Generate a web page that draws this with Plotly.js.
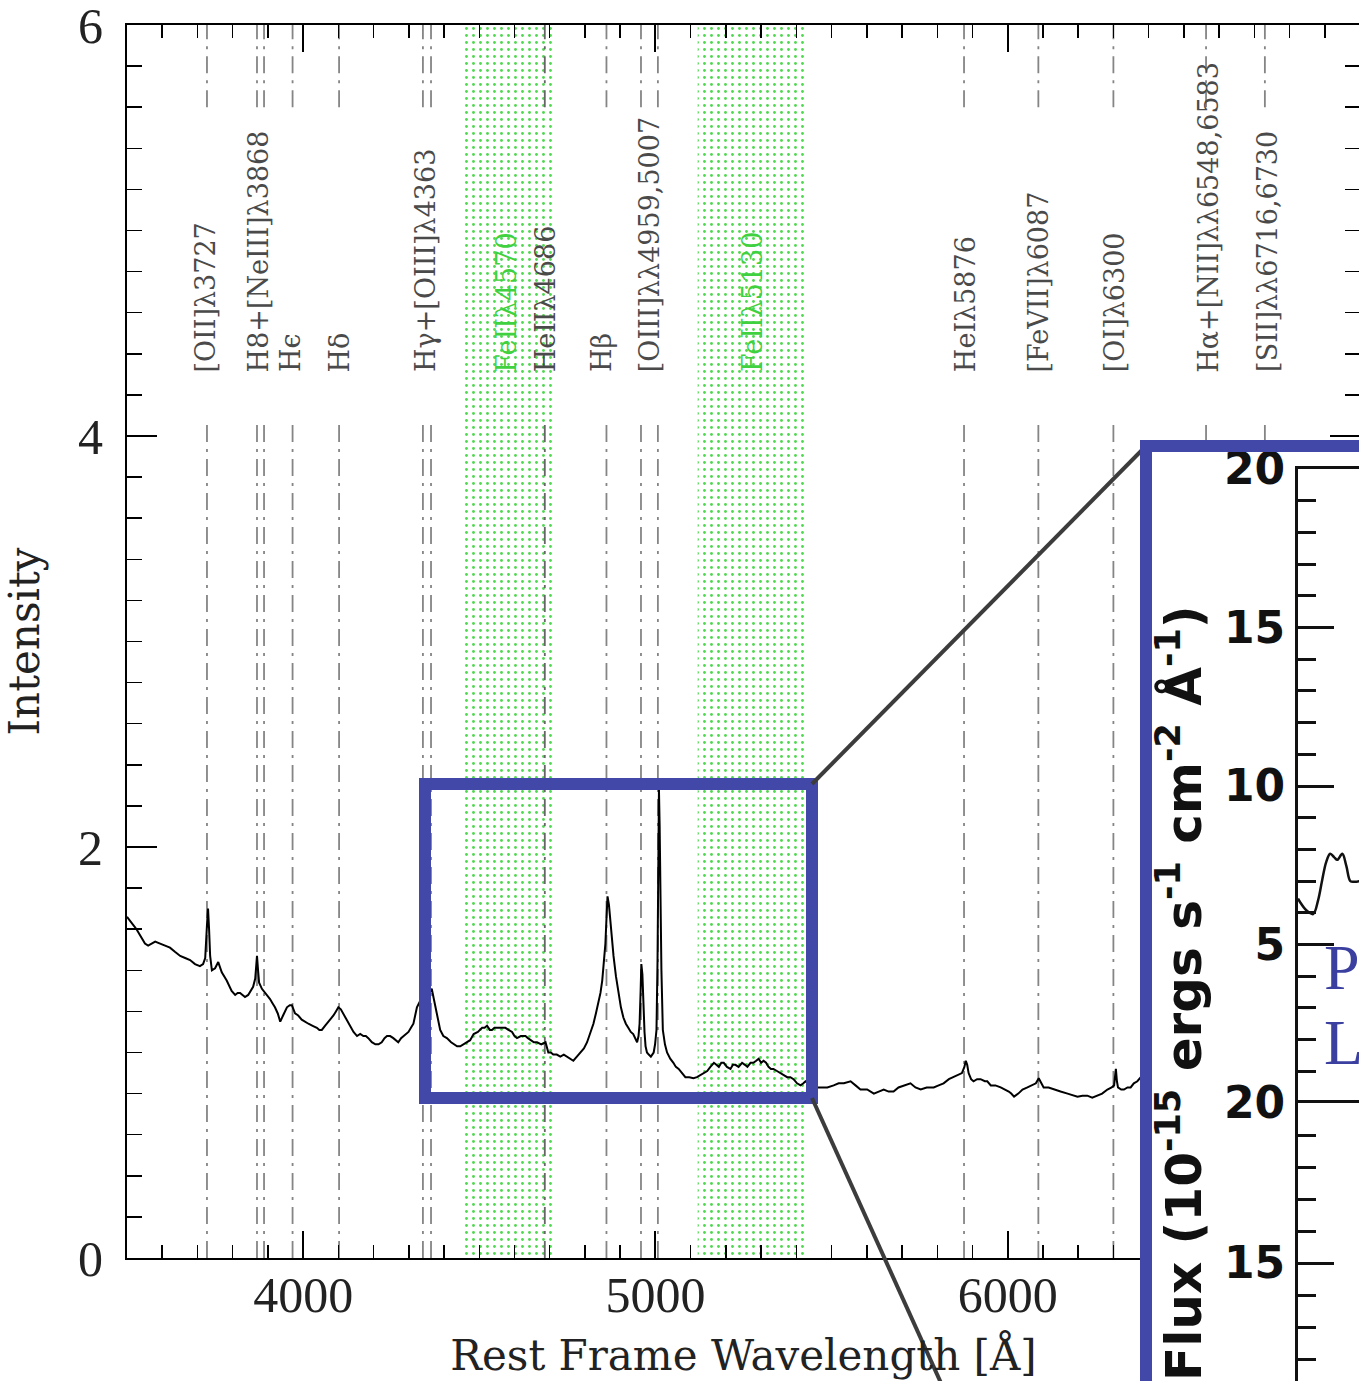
<!DOCTYPE html>
<html>
<head>
<meta charset="utf-8">
<script src="https://cdn.plot.ly/plotly-3.0.1.min.js"></script>
<style>
html,body{margin:0;padding:0;background:#fff;}
#wrap{position:relative;width:1359px;height:1381px;overflow:hidden;}
#chart{width:1600px;height:1700px;}
</style>
</head>
<body>
<div id="wrap"><div id="chart"></div></div>
<script>
// ---------------- data ----------------
const wave = [3500,3508,3518,3527,3540,3551,3560,3570,3580,3594,3608,3622,3636,3651,3665,3679,3693,3707,3716,3722,3727,3730,3733,3736,3741,3750,3759,3764,3769,3783,3797,3807,3814,3821,3828,3835,3844,3852,3858,3864,3867,3869,3872,3875,3883,3892,3899,3906,3913,3920,3928,3935,3943,3954,3962,3968,3977,3986,3996,4005,4015,4027,4039,4046,4053,4062,4071,4078,4086,4093,4100,4107,4114,4124,4134,4143,4153,4162,4171,4178,4185,4195,4205,4214,4223,4231,4238,4247,4256,4263,4270,4278,4285,4292,4299,4306,4313,4318,4323,4332,4340,4350,4358,4365,4370,4375,4382,4389,4398,4408,4420,4437,4446,4455,4464,4474,4484,4496,4508,4515,4522,4530,4536,4543,4550,4562,4574,4583,4593,4600,4607,4618,4631,4638,4645,4655,4664,4676,4688,4696,4703,4710,4720,4730,4740,4749,4758,4767,4777,4787,4797,4806,4815,4824,4831,4838,4844,4849,4854,4858,4861,4864,4868,4872,4876,4881,4888,4895,4902,4909,4916,4923,4930,4937,4943,4948,4952,4955,4958,4960,4963,4966,4969,4972,4976,4981,4987,4991,4995,4999,5003,5006,5008,5010,5012,5014,5017,5021,5027,5033,5042,5051,5058,5066,5075,5085,5096,5108,5118,5128,5138,5147,5156,5166,5173,5180,5187,5194,5203,5213,5220,5227,5236,5246,5254,5261,5270,5278,5286,5293,5300,5307,5314,5321,5328,5335,5345,5355,5364,5374,5383,5392,5402,5412,5420,5426,5440,5455,5469,5488,5506,5520,5535,5554,5568,5582,5601,5620,5634,5648,5662,5676,5690,5705,5724,5738,5753,5770,5790,5804,5818,5833,5847,5860,5870,5877,5881,5885,5889,5896,5903,5913,5923,5935,5942,5952,5965,5980,5992,6003,6010,6018,6030,6042,6056,6068,6080,6088,6095,6102,6116,6131,6150,6170,6185,6198,6212,6226,6240,6254,6268,6283,6295,6302,6307,6310,6313,6322,6330,6340,6349,6358,6368,6378,6392,6410];
const intensity = [1.66,1.64,1.62,1.60,1.56,1.53,1.52,1.53,1.54,1.53,1.52,1.51,1.49,1.47,1.46,1.45,1.43,1.42,1.43,1.46,1.62,1.70,1.60,1.47,1.40,1.41,1.44,1.41,1.39,1.35,1.30,1.28,1.29,1.29,1.28,1.27,1.28,1.30,1.32,1.36,1.42,1.47,1.40,1.34,1.31,1.29,1.28,1.26,1.24,1.22,1.19,1.15,1.18,1.22,1.23,1.23,1.19,1.18,1.16,1.15,1.14,1.13,1.12,1.11,1.11,1.13,1.15,1.16,1.18,1.20,1.22,1.21,1.19,1.16,1.13,1.10,1.08,1.09,1.08,1.08,1.07,1.05,1.04,1.04,1.05,1.07,1.08,1.08,1.07,1.06,1.05,1.07,1.08,1.09,1.10,1.12,1.14,1.18,1.22,1.25,1.27,1.28,1.29,1.31,1.27,1.22,1.16,1.11,1.08,1.07,1.05,1.03,1.03,1.04,1.05,1.06,1.09,1.10,1.12,1.12,1.13,1.11,1.11,1.12,1.12,1.12,1.12,1.11,1.10,1.08,1.07,1.08,1.08,1.07,1.06,1.05,1.05,1.04,1.05,1.00,1.00,0.99,0.99,0.98,0.99,0.98,0.97,0.96,0.98,1.00,1.02,1.05,1.09,1.14,1.19,1.24,1.29,1.35,1.44,1.53,1.65,1.76,1.72,1.64,1.56,1.47,1.37,1.29,1.22,1.17,1.14,1.12,1.10,1.09,1.07,1.05,1.08,1.14,1.30,1.43,1.38,1.22,1.10,1.03,1.00,0.99,0.98,0.99,1.00,1.04,1.11,1.45,1.90,2.28,2.10,1.75,1.40,1.11,1.04,1.00,0.97,0.95,0.93,0.92,0.90,0.88,0.88,0.875,0.88,0.89,0.90,0.91,0.93,0.95,0.94,0.93,0.95,0.95,0.93,0.92,0.94,0.94,0.93,0.95,0.94,0.93,0.95,0.95,0.96,0.97,0.95,0.96,0.95,0.93,0.92,0.92,0.91,0.90,0.89,0.88,0.88,0.87,0.85,0.84,0.85,0.86,0.84,0.83,0.83,0.83,0.84,0.85,0.85,0.86,0.84,0.82,0.82,0.80,0.81,0.82,0.81,0.81,0.83,0.84,0.85,0.83,0.82,0.83,0.83,0.84,0.85,0.87,0.88,0.89,0.90,0.93,0.96,0.94,0.90,0.87,0.86,0.87,0.87,0.86,0.86,0.84,0.84,0.83,0.82,0.81,0.80,0.785,0.80,0.82,0.83,0.84,0.85,0.875,0.85,0.83,0.83,0.82,0.81,0.80,0.79,0.785,0.79,0.79,0.78,0.79,0.80,0.82,0.83,0.84,0.92,0.86,0.83,0.82,0.82,0.83,0.83,0.85,0.86,0.88,0.89,0.88];

// emission-line markers
const lineWaves = [3727,3869,3889,3970,4102,4340,4363,4861,4959,5007,5876,6087,6300,6563,6730];
const heiiWave = [4686];
const lineLabels = ['[OII]λ3727','H8+[NeIII]λ3868','Hϵ','Hδ','Hγ+[OIII]λ4363','HeIIλ4686','Hβ','[OIII]λλ4959,5007','HeIλ5876','[FeVII]λ6087','[OI]λ6300','Hα+[NII]λλ6548,6583','[SII]λλ6716,6730'];
const lineLabelWaves = [3722,3872,3966,4102,4349,4688,4849,4983,5881,6088,6304,6571,6739];
// Fe II bands
const feBandStart = [4450,5120];
const feBandEnd = [4710,5425];
const feLabels = ['FeIIλ4570','FeIIλ5130'];
const feLabelWaves = [4577,5276];
// segments of the marker lines (intensity units)
const markLow = [0,4.08];
const markHigh = [5.6,6];
const labelBase = 4.3;
// axis ticks
const xTickVals = [4000,5000,6000,7000];
const xTickText = ['4000','5000','6000',''];
const insetTopTicks = [0,5,10,15,20];
const insetTopText = ['','5','10','15','20'];
const insetLowTicks = [5,10,15,20];
const insetLowText = ['','','15','20'];

// inset (published flux, visible part)
const insetWave = [4300,4302,4308,4315,4320,4324,4328,4332,4336,4339,4344,4348,4352,4356,4361,4370,4390];
const insetFlux = [6.45,6.34,6.09,5.96,6.4,7.03,7.6,7.86,7.75,7.67,7.86,7.48,7.0,6.98,7.0,7.1,7.2];

// ---------------- layout helpers ----------------
const W = 1600, H = 1700;
const X = p => p / W;
const Y = p => 1 - p / H;
const BLUE = '#4248a8';

const traces = [];
for (let i = 0; i < feBandStart.length; i++) {
  traces.push({
    type:'scatter', mode:'lines', xaxis:'x', yaxis:'y',
    x:[feBandStart[i],feBandEnd[i],feBandEnd[i],feBandStart[i],feBandStart[i]],
    y:[markLow[0],markLow[0],markHigh[1],markHigh[1],markLow[0]],
    fill:'toself', fillcolor:'rgba(255,255,255,0)', line:{width:0},
    fillpattern:{shape:'.', fgcolor:'#50d850', bgcolor:'rgba(255,255,255,0)', size:7, solidity:0.13},
    hoverinfo:'skip'
  });
}
function segs(ws){
  const xs=[], ys=[];
  ws.forEach(w=>{ xs.push(w,w,null,w,w,null); ys.push(markLow[0],markLow[1],null,markHigh[0],markHigh[1],null); });
  return {x:xs,y:ys};
}
const s1 = segs(lineWaves);
traces.push({type:'scatter',mode:'lines',xaxis:'x',yaxis:'y',x:s1.x,y:s1.y,
  line:{color:'#858585',width:1.8,dash:'17px,7px,3px,7px'},hoverinfo:'skip'});
const s2 = segs(heiiWave);
traces.push({type:'scatter',mode:'lines',xaxis:'x',yaxis:'y',x:s2.x,y:s2.y,
  line:{color:'#666',width:1.8,dash:'17px,7px,3px,7px'},hoverinfo:'skip'});
traces.push({type:'scatter',mode:'lines',xaxis:'x',yaxis:'y',x:wave,y:intensity,
  line:{color:'#000',width:2},hoverinfo:'skip'});
traces.push({type:'scatter',mode:'lines',xaxis:'x2',yaxis:'y2',x:[null],y:[null]});
traces.push({type:'scatter',mode:'lines',xaxis:'x3',yaxis:'y3',x:insetWave,y:insetFlux,
  line:{color:'#111',width:2.5,shape:'spline'},hoverinfo:'skip'});
traces.push({type:'scatter',mode:'lines',xaxis:'x4',yaxis:'y4',x:[null],y:[null]});

const serifTick = {family:'Liberation Serif, serif', size:50, color:'#222'};
const titleFont = {family:'DejaVu Serif, serif', size:42, color:'#222'};
const labFont = {family:'DejaVu Serif, serif', size:27, color:'#4a4a4a'};
const insetTick = {family:'DejaVu Sans, sans-serif', size:44, color:'#111', weight:'bold'};

const annotations = [];
lineLabels.forEach((t,i)=>annotations.push({
  xref:'x', yref:'y', x:lineLabelWaves[i], y:labelBase, text:t, textangle:-90,
  xanchor:'center', yanchor:'bottom', showarrow:false, font:labFont
}));
feLabels.forEach((t,i)=>annotations.push({
  xref:'x', yref:'y', x:feLabelWaves[i], y:labelBase, text:t, textangle:-90,
  xanchor:'center', yanchor:'bottom', showarrow:false,
  font:{family:'DejaVu Serif, serif', size:27, color:'#3fd13f'}
}));
annotations.push({
  xref:'paper', yref:'paper', x:X(1180), y:Y(603), xanchor:'center', yanchor:'top',
  textangle:-90, showarrow:false,
  text:'Flux (10<sup>-15</sup> ergs s<sup>-1</sup> cm<sup>-2</sup> Å<sup>-1</sup>)',
  font:{family:'DejaVu Sans, sans-serif', size:50, color:'#111', weight:'bold'}
});
annotations.push({xref:'paper',yref:'paper',x:X(1322),y:Y(967),xanchor:'left',yanchor:'middle',
  showarrow:false,text:'P',font:{family:'Liberation Serif, serif',size:64,color:'#3a3fa0'}});
annotations.push({xref:'paper',yref:'paper',x:X(1322),y:Y(1042),xanchor:'left',yanchor:'middle',
  showarrow:false,text:'L',font:{family:'Liberation Serif, serif',size:64,color:'#3a3fa0'}});

const shapes = [
  {type:'rect', xref:'paper', yref:'paper', x0:X(425), x1:X(812), y0:Y(1098), y1:Y(784),
   line:{color:BLUE,width:12}, fillcolor:'rgba(0,0,0,0)', layer:'above'},
  {type:'line', xref:'paper', yref:'paper', x0:X(812), y0:Y(784), x1:X(1146), y1:Y(446),
   line:{color:'#3c3c3c',width:4}, layer:'above'},
  {type:'line', xref:'paper', yref:'paper', x0:X(812), y0:Y(1098), x1:X(960), y1:Y(1425),
   line:{color:'#3c3c3c',width:4}, layer:'above'},
  {type:'rect', xref:'paper', yref:'paper', x0:X(1146), x1:X(1900), y0:Y(1900), y1:Y(446),
   line:{color:BLUE,width:12}, fillcolor:'rgba(0,0,0,0)', layer:'above'}
];

const layout = {
  width:W, height:H, margin:{l:0,r:0,t:0,b:0},
  paper_bgcolor:'#ffffff', plot_bgcolor:'#ffffff', showlegend:false,
  xaxis:{domain:[X(127),X(1360)], range:[3500,7000], anchor:'y',
    showline:true, linecolor:'#000', linewidth:2, mirror:'ticks',
    ticks:'inside', ticklen:27, tickwidth:2, tickcolor:'#000',
    tickmode:'array', tickvals:xTickVals, ticktext:xTickText,
    minor:{tick0:0, dtick:100, ticks:'inside', ticklen:13, tickwidth:1.5, tickcolor:'#000'},
    tickfont:serifTick, ticklabelstandoff:-8, ticklabeloverflow:'allow', showgrid:false, zeroline:false,
    title:{text:'Rest Frame Wavelength [Å]', font:titleFont, standoff:19}},
  yaxis:{domain:[Y(1258),Y(25)], range:[0,6], anchor:'x',
    showline:true, linecolor:'#000', linewidth:2, mirror:'ticks',
    ticks:'inside', ticklen:30, tickwidth:2, tickcolor:'#000', tickmode:'linear', tick0:0, dtick:2,
    minor:{tick0:0, dtick:0.2, ticks:'inside', ticklen:15, tickwidth:1.5, tickcolor:'#000'},
    tickfont:serifTick, ticklabelstandoff:12, ticklabeloverflow:'allow', showgrid:false, zeroline:false,
    title:{text:'Intensity', font:titleFont, standoff:29}},
  xaxis2:{domain:[X(1146),1], range:[0,1], anchor:'y2', visible:false, fixedrange:true},
  yaxis2:{domain:[0,Y(446)], range:[0,1], anchor:'x2', visible:false, fixedrange:true},
  xaxis3:{domain:[X(1298),1], range:[4300,4600], anchor:'y3', showline:true, mirror:true,
    linecolor:'#111', linewidth:3, ticks:'', showticklabels:false, showgrid:false, zeroline:false},
  yaxis3:{domain:[Y(1103),Y(469)], range:[0,20], anchor:'x3', showline:true, linecolor:'#111', linewidth:3,
    ticks:'inside', ticklen:36, tickwidth:3, tickcolor:'#111',
    tickmode:'array', tickvals:insetTopTicks, ticktext:insetTopText,
    minor:{tick0:0, dtick:1, ticks:'inside', ticklen:18, tickwidth:3, tickcolor:'#111'},
    tickfont:insetTick, ticklabelstandoff:1, ticklabeloverflow:'allow', showgrid:false, zeroline:false},
  xaxis4:{domain:[X(1298),1], range:[4300,4600], anchor:'y4', showline:true, mirror:true,
    linecolor:'#111', linewidth:3, ticks:'', showticklabels:false, showgrid:false, zeroline:false},
  yaxis4:{domain:[0,Y(1103)], range:[20-597/32,20], anchor:'x4', showline:true, linecolor:'#111', linewidth:3,
    ticks:'inside', ticklen:36, tickwidth:3, tickcolor:'#111',
    tickmode:'array', tickvals:insetLowTicks, ticktext:insetLowText,
    minor:{tick0:0, dtick:1, ticks:'inside', ticklen:18, tickwidth:3, tickcolor:'#111'},
    tickfont:insetTick, ticklabelstandoff:1, ticklabeloverflow:'allow', showgrid:false, zeroline:false},
  annotations:annotations,
  shapes:shapes
};

Plotly.newPlot('chart', traces, layout, {staticPlot:true, displayModeBar:false});
</script>
</body>
</html>
